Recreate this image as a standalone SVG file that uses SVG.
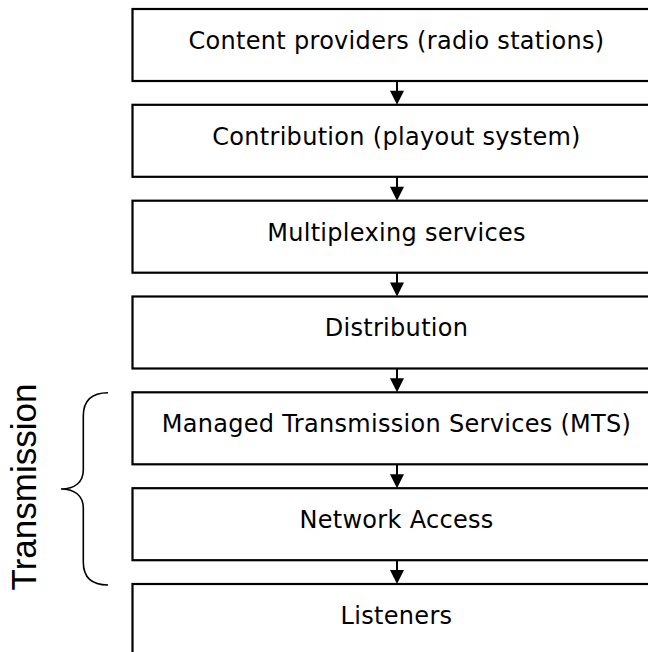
<svg xmlns="http://www.w3.org/2000/svg" width="648" height="652" viewBox="0 0 648 652">
<style>
.box{fill:#fff;stroke:#000;stroke-width:2.2}
.lbl{font-family:"DejaVu Sans",Verdana,sans-serif;font-size:24px;letter-spacing:0.3px;text-anchor:middle;fill:#000}
.con{stroke:#000;stroke-width:2;fill:none}
.head{fill:#000}
.brace{stroke:#000;stroke-width:1.6;fill:none}
.side{font-family:"Liberation Sans",Arial,sans-serif;font-size:35px;text-anchor:middle;fill:#000}
</style>
<rect width="648" height="652" fill="#fff"/>
<g id="n1"><rect class="box" x="132.5" y="9" width="600" height="72"/><text class="lbl" x="396.5" y="49">Content providers (radio stations)</text></g>
<g id="n2"><rect class="box" x="132.5" y="104.8" width="600" height="72"/><text class="lbl" x="396.5" y="144.6">Contribution (playout system)</text></g>
<g id="n3"><rect class="box" x="132.5" y="200.7" width="600" height="72"/><text class="lbl" x="396.5" y="240.5">Multiplexing services</text></g>
<g id="n4"><rect class="box" x="132.5" y="296.5" width="600" height="72"/><text class="lbl" x="396.5" y="336.3">Distribution</text></g>
<g id="n5"><rect class="box" x="132.5" y="392.3" width="600" height="72"/><text class="lbl" x="396.5" y="432.1">Managed Transmission Services (MTS)</text></g>
<g id="n6"><rect class="box" x="132.5" y="488.2" width="600" height="72"/><text class="lbl" x="396.5" y="528">Network Access</text></g>
<g id="n7"><rect class="box" x="132.5" y="584" width="600" height="100"/><text class="lbl" x="396.5" y="623.8">Listeners</text></g>
<g id="connectors">
<line class="con" x1="397" y1="81" x2="397" y2="92"/><polygon class="head" points="390,90.8 404,90.8 397,104.8"/>
<line class="con" x1="397" y1="176.8" x2="397" y2="188"/><polygon class="head" points="390,186.7 404,186.7 397,200.7"/>
<line class="con" x1="397" y1="272.7" x2="397" y2="284"/><polygon class="head" points="390,282.5 404,282.5 397,296.5"/>
<line class="con" x1="397" y1="368.5" x2="397" y2="380"/><polygon class="head" points="390,378.3 404,378.3 397,392.3"/>
<line class="con" x1="397" y1="464.3" x2="397" y2="476"/><polygon class="head" points="390,474.2 404,474.2 397,488.2"/>
<line class="con" x1="397" y1="560.2" x2="397" y2="571"/><polygon class="head" points="390,570 404,570 397,584"/>
</g>
<g id="transmission">
<path class="brace" d="M108,392.7 C92,392.7 83.3,400 83.3,416 L83.3,470 C83.3,482 75,489 61,489 C75,489 83.3,496 83.3,508 L83.3,562 C83.3,578 92,585 108,585"/>
<text class="side" transform="translate(36,487) rotate(-90)">Transmission</text>
</g>
</svg>
